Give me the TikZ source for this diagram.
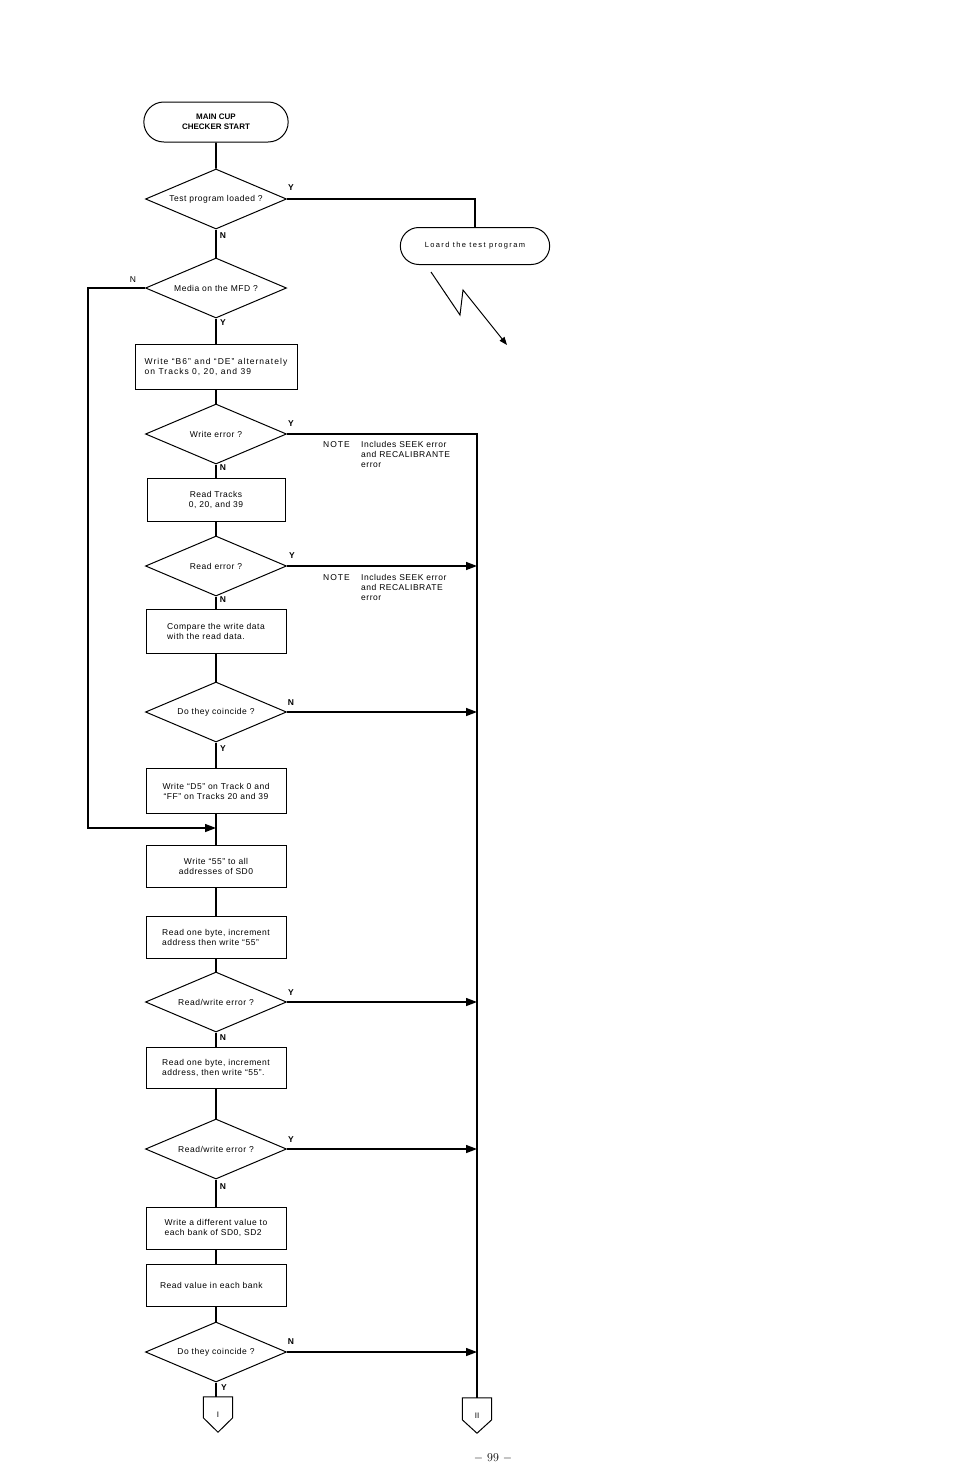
\documentclass[tikz,border=0pt]{standalone}
\usepackage{fontspec}
\setsansfont{Liberation Sans}
\usetikzlibrary{shapes.geometric,shapes.misc,arrows.meta,calc}
\newcommand{\boxfont}{\sffamily\fontsize{8.5}{10}\selectfont\addfontfeature{LetterSpace=6}}
\begin{document}
\begin{tikzpicture}[x=1pt,y=-1pt,
  every node/.style={font=\boxfont},
  proc/.style={draw,line width=1pt,minimum width=140pt,minimum height=43pt,align=center,inner sep=2pt},
  procl/.style={proc,align=left},
  dec/.style={draw,diamond,line width=1pt,minimum width=141pt,minimum height=60pt,aspect=2.35,inner sep=0pt,align=center},
  term/.style={draw,rounded rectangle,line width=1pt,align=center},
  conn/.style={minimum width=29pt,minimum height=35pt,inner sep=0pt,font=\sffamily\fontsize{8}{9}\selectfont},
  flow/.style={line width=1.8pt},
  arr/.style={line width=1.4pt,-{Triangle[length=11pt,width=8pt]}},
  lbl/.style={font=\sffamily\bfseries\fontsize{8.5}{10}\selectfont,inner sep=0pt},
  note/.style={font=\sffamily\fontsize{8.5}{10}\selectfont\addfontfeature{LetterSpace=6},align=left,inner sep=0pt,anchor=north west}
]
\useasboundingbox (0,0) rectangle (954,1465);

% terminals
\node[term,minimum width=151pt,minimum height=40pt,font=\sffamily\bfseries\fontsize{8}{10}\selectfont] (start) at (216,122) {MAIN CUP\\CHECKER START};
\node[term,minimum width=156pt,minimum height=37pt,font=\sffamily\fontsize{7.5}{9}\selectfont\addfontfeature{LetterSpace=18}] (load) at (475,246) {Loard the test program};

% main column
\node[dec] (d1) at (216,199) {Test program loaded ?};
\node[dec] (d2) at (216,288) {Media on the MFD ?};
\node[procl,minimum width=162pt,minimum height=45pt,font=\sffamily\fontsize{8.5}{10}\selectfont\addfontfeature{LetterSpace=12}] (b1) at (216,367) {Write “B6” and “DE” alternately\\on Tracks 0, 20, and 39};
\node[dec] (d3) at (216,434) {Write error ?};
\node[proc,minimum width=138pt] (b2) at (216,500) {Read Tracks\\0, 20, and 39};
\node[dec] (d4) at (216,566) {Read error ?};
\node[procl,minimum height=44pt] (b3) at (216,631) {Compare the write data\\with the read data.};
\node[dec] (d5) at (216,712) {Do they coincide ?};
\node[proc,minimum height=45pt] (b4) at (216,791) {Write “D5” on Track 0 and\\“FF” on Tracks 20 and 39};
\node[proc,minimum height=42pt] (b5) at (216,866) {Write “55” to all\\addresses of SD0};
\node[procl,minimum height=42pt] (b6) at (216,937) {Read one byte, increment\\address then write “55”};
\node[dec] (d6) at (216,1002) {Read/write error ?};
\node[procl,minimum height=41pt] (b7) at (216,1068) {Read one byte, increment\\address, then write “55”.};
\node[dec] (d7) at (216,1149) {Read/write error ?};
\node[procl,minimum height=42pt] (b8) at (216,1228) {Write a different value to\\each bank of SD0, SD2};
\node[procl,minimum height=42pt,text width=112pt] (b9) at (216,1285) {Read value in each bank};
\node[dec] (d8) at (216,1352) {Do they coincide ?};

% off-page connectors
\node[conn] (c1) at (218,1414.5) {I};
\node[conn] (c2) at (477,1415.5) {II};
\draw[line width=1pt] (c1.north west) -- (c1.north east) -- ($(c1.north east)+(0,21)$) -- (c1.south) -- ($(c1.north west)+(0,21)$) -- cycle;
\draw[line width=1pt] (c2.north west) -- (c2.north east) -- ($(c2.north east)+(0,22)$) -- (c2.south) -- ($(c2.north west)+(0,22)$) -- cycle;

% main flow
\draw[flow] (start) -- (d1);
\draw[flow] (d1) -- (d2);
\draw[flow] (d2) -- (b1);
\draw[flow] (b1) -- (d3);
\draw[flow] (d3) -- (b2);
\draw[flow] (b2) -- (d4);
\draw[flow] (d4) -- (b3);
\draw[flow] (b3) -- (d5);
\draw[flow] (d5) -- (b4);
\draw[flow] (b4) -- (b5);
\draw[flow] (b5) -- (b6);
\draw[flow] (b6) -- (d6);
\draw[flow] (d6) -- (b7);
\draw[flow] (b7) -- (d7);
\draw[flow] (d7) -- (b8);
\draw[flow] (b8) -- (b9);
\draw[flow] (b9) -- (d8);
\draw[flow] (d8.south) -- (d8.south |- c1.north);

% Y branch to loader
\draw[line width=1.3pt] (d1.east) -| (load.north);

% lightning
\coordinate (z0) at (431,272);
\coordinate (z1) at (460,315);
\coordinate (z2) at (463,290);
\coordinate (z3) at (507,345);
\draw[line width=1pt,-{Triangle[length=8pt,width=6pt]}] (z0) -- (z1) -- (z2) -- (z3);

% left loop
\coordinate (lx) at (88,0);
\coordinate (merge) at (216,828);
\draw[arr] (d2.west) -| (lx |- merge) -- (merge);

% error bus
\draw[flow] (d3.east) -| (c2.north);
\draw[arr] (d4.east) -- (d4.east -| c2.north);
\draw[arr] (d5.east) -- (d5.east -| c2.north);
\draw[arr] (d6.east) -- (d6.east -| c2.north);
\draw[arr] (d7.east) -- (d7.east -| c2.north);
\draw[arr] (d8.east) -- (d8.east -| c2.north);

% labels
\node[lbl] (l1y) at (291,188) {Y};
\node[lbl] (l1n) at (223,236) {N};
\node[lbl,font=\sffamily\fontsize{8.5}{10}\selectfont] (l2n) at (133,280) {N};
\node[lbl] (l2y) at (223,323) {Y};
\node[lbl] (l3y) at (291,424) {Y};
\node[lbl] (l3n) at (223,468) {N};
\node[lbl] (l4y) at (292,556) {Y};
\node[lbl] (l4n) at (223,600) {N};
\node[lbl] (l5n) at (291,703) {N};
\node[lbl] (l5y) at (223,749) {Y};
\node[lbl] (l6y) at (291,993) {Y};
\node[lbl] (l6n) at (223,1038) {N};
\node[lbl] (l7y) at (291,1140) {Y};
\node[lbl] (l7n) at (223,1187) {N};
\node[lbl] (l8n) at (291,1342) {N};
\node[lbl] (l8y) at (224,1388) {Y};

% notes
\node[note,font=\sffamily\fontsize{8.5}{10}\selectfont\addfontfeature{LetterSpace=12}] (n1k) at (323,441) {NOTE};
\node[note] (n1) at (361,441) {Includes SEEK error\\and RECALIBRANTE\\error};
\node[note,font=\sffamily\fontsize{8.5}{10}\selectfont\addfontfeature{LetterSpace=12}] (n2k) at (323,574) {NOTE};
\node[note] (n2) at (361,574) {Includes SEEK error\\and RECALIBRATE\\error};

% page number
\node[font=\rmfamily\fontsize{12}{14}\selectfont] (page) at (493,1458) {$-$ 99 $-$};
\end{tikzpicture}
\end{document}
